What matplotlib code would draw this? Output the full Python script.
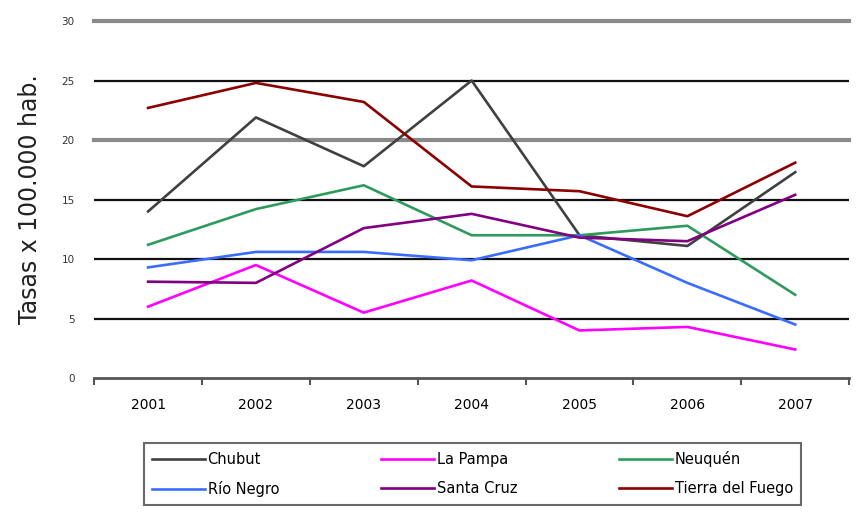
import matplotlib
matplotlib.use("Agg")
import matplotlib.pyplot as plt
from matplotlib.ticker import FixedLocator

years = ["2001", "2002", "2003", "2004", "2005", "2006", "2007"]
chubut = [14.0, 21.9, 17.8, 25.0, 12.0, 11.1, 17.3]
la_pampa = [6.0, 9.5, 5.5, 8.2, 4.0, 4.3, 2.4]
neuquen = [11.2, 14.2, 16.2, 12.0, 12.0, 12.8, 7.0]
rio_negro = [9.3, 10.6, 10.6, 9.9, 12.0, 8.0, 4.5]
santa_cruz = [8.1, 8.0, 12.6, 13.8, 11.8, 11.5, 15.4]
tierra_del_fuego = [22.7, 24.8, 23.2, 16.1, 15.7, 13.6, 18.1]

series = [
    ("Chubut", chubut, "#404040"),
    ("La Pampa", la_pampa, "#ff00ff"),
    ("Neuquén", neuquen, "#2e9a5e"),
    ("Río Negro", rio_negro, "#3a6cff"),
    ("Santa Cruz", santa_cruz, "#800080"),
    ("Tierra del Fuego", tierra_del_fuego, "#8b0000"),
]

fig = plt.figure(figsize=(8.56, 5.13), dpi=100)
ax = fig.add_axes([0.110, 0.263, 0.882, 0.696])

x = list(range(len(years)))

# gridlines
for v in [5, 10, 15, 25]:
    ax.axhline(v, color="#111111", lw=1.6, zorder=1)
for v in [20, 30]:
    ax.axhline(v, color="#8a8a8a", lw=3.0, zorder=1, clip_on=False)

handles = {}
for name, vals, col in series:
    (h,) = ax.plot(x, vals, color=col, lw=1.9, label=name, zorder=3)
    handles[name] = h

ax.set_xlim(-0.5, 6.5)
ax.set_ylim(0, 30)
for s in ["left", "right", "top"]:
    ax.spines[s].set_visible(False)
ax.spines["bottom"].set_color("#555555")
ax.spines["bottom"].set_linewidth(2.0)

ax.set_xticks(x)
ax.set_xticklabels(years, fontsize=10)
ax.tick_params(axis="x", which="major", length=0, pad=14)
ax.xaxis.set_minor_locator(FixedLocator([i - 0.5 for i in range(8)]))
ax.tick_params(axis="x", which="minor", length=5, width=1.5, color="#555555", direction="out")

ax.set_yticks([0, 5, 10, 15, 20, 25, 30])
ax.set_yticklabels(["0", "5", "10", "15", "20", "25", "30"], fontsize=7.5, color="#333333")
ax.tick_params(axis="y", length=0, pad=14)

ax.set_ylabel("Tasas x 100.000 hab.", fontsize=17, color="#222222", labelpad=14)

# matplotlib fills legend column-wise; order so rows read like the reference
order = ["Chubut", "Río Negro", "La Pampa", "Santa Cruz", "Neuquén", "Tierra del Fuego"]
leg = fig.legend([handles[n] for n in order], order, loc="center",
                 bbox_to_anchor=(0.552, 0.076), ncol=3,
                 fontsize=10.5, frameon=True, fancybox=False, edgecolor="#444444",
                 handlelength=3.6, handletextpad=0.2, columnspacing=7.0,
                 borderpad=0.55, labelspacing=0.95, borderaxespad=0)
leg.get_frame().set_linewidth(1.5)

fig.savefig("out.png", dpi=100)
